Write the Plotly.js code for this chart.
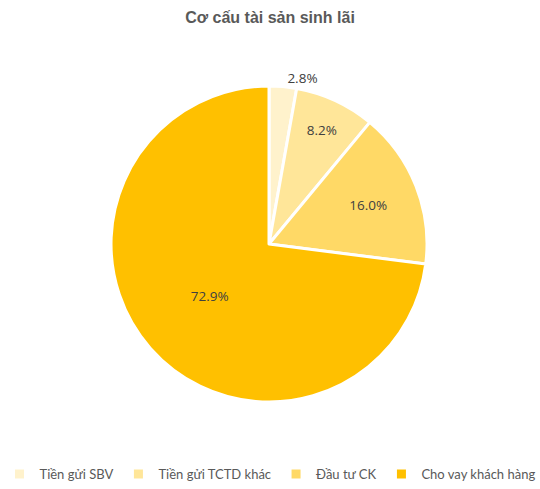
<!DOCTYPE html>
<html><head><meta charset="utf-8">
<script src="https://cdn.plot.ly/plotly-3.0.1.min.js"></script>
<style>html,body{margin:0;padding:0;background:#fff}#c{width:540px;height:489px}</style>
</head><body><div id="c"></div>
<script>
const categories = ["Tiền gửi SBV", "Tiền gửi TCTD khác", "Đầu tư CK", "Cho vay khách hàng"];
const values = [2.8, 8.2, 16.0, 72.9];
const colors = ["#FFF2CC", "#FFE699", "#FFD966", "#FFC000"];
const textPositions = ["outside", "inside", "inside", "inside"];

const trace = {
  type: "pie",
  labels: categories,
  values: values,
  sort: false,
  direction: "clockwise",
  rotation: 0,
  marker: {colors: colors, line: {color: "#ffffff", width: 3}},
  texttemplate: "%{value:.1f}%",
  textposition: textPositions,
  insidetextorientation: "horizontal",
  textfont: {family: "Open Sans, sans-serif", size: 13.5, color: "#404040"},
  outsidetextfont: {family: "Open Sans, sans-serif", size: 13.5, color: "#404040"},
  hoverinfo: "label+percent",
  domain: {x: [0.2056, 0.7907], y: [0.1779, 0.8241]},
  automargin: false
};

const layout = {
  width: 540, height: 489,
  margin: {l: 0, r: 0, t: 0, b: 0},
  paper_bgcolor: "#ffffff",
  title: {text: "<b>Cơ cấu tài sản sinh lãi</b>", x: 0.5, xanchor: "center", y: 0.965, yanchor: "middle",
          font: {family: "Liberation Sans, Arial, sans-serif", size: 16, color: "#595959"}},
  showlegend: true,
  legend: {orientation: "h", x: 0.5, xanchor: "center", y: 0.0, yanchor: "bottom",
           font: {family: "Lato, sans-serif", size: 13, color: "#595959"}, itemwidth: 30,
           traceorder: "normal"}
};

Plotly.newPlot("c", [trace], layout, {displayModeBar: false, staticPlot: true});
</script>
</body></html>
